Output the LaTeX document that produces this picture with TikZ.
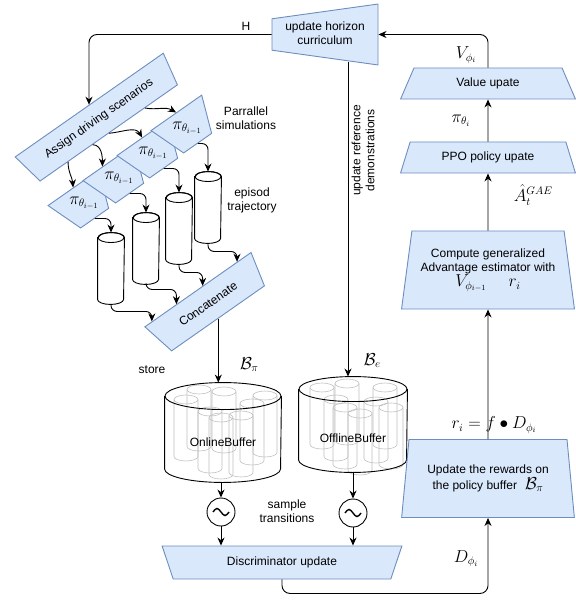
\documentclass[tikz,border=0pt]{standalone}
\usepackage{fontspec}
\setmainfont{Liberation Sans}
\usetikzlibrary{shapes.geometric,arrows.meta,calc}
\definecolor{boxfill}{HTML}{DAE8FC}
\definecolor{boxline}{HTML}{6C8EBF}
\newcommand{\lmath}[1]{{\fontsize{16}{18}\selectfont$#1$}}

\begin{document}
\begin{tikzpicture}
  [x=1pt,y=1pt,line width=0.9pt,>={Stealth[length=8pt,width=7pt]},
   every node/.style={font=\fontsize{12}{14}\selectfont},
   box/.style={trapezium,draw=boxline,fill=boxfill,trapezium stretches=true,
     inner sep=0pt,align=center},
   flipped/.style={shape border rotate=180},
   slim/.style={box,trapezium left angle=63,trapezium right angle=63,
     minimum width=175pt,minimum height=31pt},
   tall/.style={box,trapezium left angle=78,trapezium right angle=78,
     minimum width=173pt,minimum height=78pt},
   sim/.style={box,flipped,rotate=35,
     trapezium left angle=65,trapezium right angle=65,
     minimum width=62pt,minimum height=37pt},
   hold/.style={rectangle,inner sep=0pt},
   traj/.style={hold,minimum width=26pt,minimum height=71pt},
   ghost/.style={draw=black!25,line width=0.6pt},
   sampler/.style={circle,draw,minimum size=28pt,inner sep=0pt},
   lbl/.style={align=center}]

  \useasboundingbox (0,0) rectangle (575,-601);

  % curriculum and scenario assignment
  \node [box,rotate=90,trapezium left angle=80.6,
    trapezium right angle=80.6,minimum width=61pt,minimum height=106pt]
    (horizon) at (325,-34.5)
    {\rotatebox{-90}{\begin{tabular}{@{}c@{}}update horizon\\curriculum\end{tabular}}};
  \node [box,flipped,rotate=35,trapezium left angle=65.5,
    trapezium right angle=65.5,minimum width=181pt,minimum height=34pt]
    (assign) at (99,-119) {Assign driving scenarios};

  % parallel simulations
  \node [sim] (p1) at (84,-203) {\rotatebox{-35}{\lmath{\pi_{\theta_{i-1}}}}};
  \node [sim] (p2) at (119,-178) {\rotatebox{-35}{\lmath{\pi_{\theta_{i-1}}}}};
  \node [sim] (p3) at (153,-153) {\rotatebox{-35}{\lmath{\pi_{\theta_{i-1}}}}};
  \node [sim] (p4) at (187,-128) {\rotatebox{-35}{\lmath{\pi_{\theta_{i-1}}}}};

  \node [traj] (c1) at (111,-268.5) {};
  \node [traj] (c2) at (146,-248.5) {};
  \node [traj] (c3) at (179,-228.5) {};
  \node [traj] (c4) at (208,-207.5) {};
  \foreach \n in {c1,c2,c3,c4} {
    \draw [fill=white] ([yshift=-5pt]\n.north west) -- ([yshift=5pt]\n.south west)
      arc (180:360:13 and 5) -- ([yshift=-5pt]\n.north east)
      arc (0:180:13 and 5) -- cycle;
    \draw ([yshift=-5pt]\n.north) ellipse (13 and 5);
  }

  \node [box,flipped,rotate=35,trapezium left angle=60,trapezium right angle=60,
    minimum width=130pt,minimum height=35pt] (conc) at (208,-304) {Concatenate};

  \node [lbl] (simlbl) at (246,-118) {Parrallel\\simulations};
  \node [lbl] (trajlbl) at (252,-200) {episod\\trajectory};
  \node (storelbl) at (152,-370) {store};

  % buffers
  \foreach \cx/\cy in {186/-428,199/-418,224/-420,210/-440,
      221/-446,252/-432,265/-424,241/-444,
      322/-416,336/-428,347/-412,345/-436,
      385/-416,376/-430,391/-436,360/-442} {
    \draw [ghost] ({\cx-12},{\cy+28.5}) -- ({\cx-12},{\cy-28.5})
      arc (180:360:12 and 4.5) -- ({\cx+12},{\cy+28.5});
    \draw [ghost] (\cx,{\cy+28.5}) ellipse (12 and 4.5);
  }
  \node [hold,minimum width=116pt,minimum height=99pt,
    label={[yshift=-10pt]center:OnlineBuffer}] (online) at (223,-432.5) {};
  \node [hold,minimum width=108pt,minimum height=95pt,
    label={[yshift=-14pt]center:OfflineBuffer}] (offline) at (353,-424.5) {};
  \foreach \n/\rx/\ry in {online/58/13.5,offline/54/12.5} {
    \draw ([yshift=-\ry pt]\n.north west) -- ([yshift=\ry pt]\n.south west)
      arc (180:360:\rx pt and \ry pt) -- ([yshift=-\ry pt]\n.north east);
    \draw ([yshift=-\ry pt]\n.north) ellipse (\rx pt and \ry pt);
  }

  \node [sampler] (s1) at (221,-512) {};
  \node [sampler] (s2) at (353,-513) {};
  \foreach \s in {s1,s2}
    \draw [line width=1.4pt] (\s.center) ++(-8,0) sin ++(4,3.5) cos ++(4,-3.5)
      sin ++(4,-3.5) cos ++(4,3.5);
  \node [lbl] (samplelbl) at (287,-511) {sample\\transitions};

  \node [box,flipped,trapezium left angle=63.4,trapezium right angle=63.4,
    minimum width=240pt,minimum height=33pt] (disc) at (282,-562.5)
    {Discriminator update};

  % policy side
  \node [tall] (update) at (488,-478.5)
    {Update the rewards on\\the policy buffer\hspace{8pt}\lmath{\mathcal{B}_\pi}};
  \node [tall] (compute) at (488,-270)
    {Compute generalized\\Advantage estimator with\\
     \lmath{V_{\phi_{i-1}}}\hspace{22pt}\lmath{r_i}};
  \node [slim] (ppo) at (488,-157.5) {PPO policy upate};
  \node [slim] (value) at (488,-83.5) {Value upate};

  % connectors
  \draw [->,rounded corners=8pt] (horizon.north) -| (assign.north)
    node [pos=0.07,above] {H};
  \draw [->] ($(assign.south)+(215:50)$) to[out=-90,in=95] (p1.north);
  \draw [->] ($(assign.south)+(215:20)$) to[out=0,in=90] ($(p2.north)+(215:7)$);
  \draw [->] (assign.south) to[out=5,in=120] (p3.north);
  \draw [->] ($(assign.south)+(35:44)$) to[out=-10,in=150] (p4.north);

  \foreach \p/\c in {p1/c1,p2/c2,p3/c3,p4/c4}
    \draw [->,rounded corners=6pt] (\p.south) -| (\c.north);

  \draw [->,rounded corners=6pt] (c1.south) -- ++(0,-7) -| ($(conc.north)+(215:56)$);
  \draw [->,rounded corners=6pt] (c2.south) -- ++(0,-5) -| ($(conc.north)+(215:26)$);
  \draw [->,rounded corners=6pt] (c3.south) -- ++(0,-8) -| ($(conc.north)+(35:6)$);
  \draw [->,rounded corners=6pt] (c4.south) -- ++(0,-8) -| ($(conc.north)+(35:48)$);

  \draw [->] (conc.south) -- (conc.south |- online.north)
    node [pos=0.72,right=18pt] {\lmath{\mathcal{B}_\pi}};
  \draw [->,shorten <=4pt] ([xshift=-5pt]offline.north |- horizon.west)
    -- ([xshift=-5pt]offline.north)
    node [pos=0.29,rotate=90,anchor=north,align=center]
      {update reference\\demonstrations}
    node [pos=0.95,right=12pt] {\lmath{\mathcal{B}_e}};

  \draw [->] (s1.north |- online.south) -- (s1.north);
  \draw [->] (s2.north |- offline.south) -- (s2.north);
  \draw [->] (s1.south) -- (s1.south |- disc.north);
  \draw [->] (s2.south) -- (s2.south |- disc.north);

  \draw [->,rounded corners=8pt] (disc.south) -- ++(0,-14) -| (update.south)
    node [pos=0.73,left=6pt] {\lmath{D_{\phi_i}}};
  \draw [->] (update.north) -- (compute.south)
    node [pos=0.11,xshift=6pt] {\lmath{r_i = f \bullet D_{\phi_i}}};
  \draw [->] (compute.north) -- (ppo.south)
    node [pos=0.62,right=22pt] {\lmath{\hat{A}_t^{GAE}}};
  \draw [->] (ppo.north) -- (value.south)
    node [midway,left=14pt] {\lmath{\pi_{\theta_i}}};
  \draw [->,rounded corners=8pt] (value.north) |- (horizon.south)
    node [pos=0.19,left=8pt] {\lmath{V_{\phi_i}}};
\end{tikzpicture}
\end{document}
